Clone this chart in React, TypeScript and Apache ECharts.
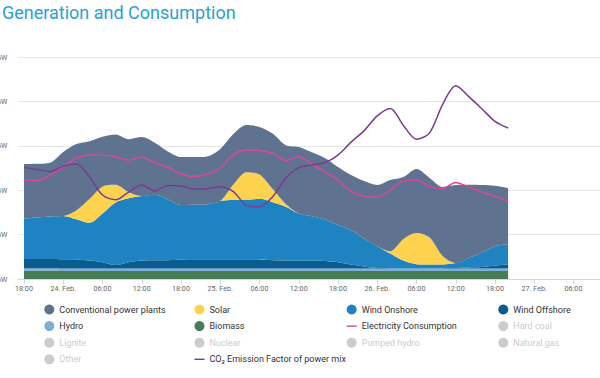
import React, { useEffect, useRef } from "react";
import * as echarts from "echarts";

// hours after 23 Feb 18:00 for every sample
const hoursFromStart = [
  0, 2, 4, 6, 8, 10, 12, 14, 16, 18, 20, 22, 24, 26, 28, 30, 32, 34, 36,
  38, 40, 42, 44, 46, 48, 50, 52, 54, 56, 58, 60, 62, 64, 66, 68, 70, 72, 74,
];

// GW
const biomass = [
  3.7, 3.7, 3.7, 3.6, 3.6, 3.6, 3.6, 3.6, 3.6, 3.6, 3.6, 3.6, 3.6, 3.6, 3.6, 3.6, 3.6, 3.6, 3.6,
  3.6, 3.6, 3.6, 3.6, 3.6, 3.6, 3.6, 3.6, 3.6, 3.6, 3.6, 3.6, 3.6, 3.6, 3.6, 3.6, 3.6, 3.6, 3.6,
];
const hydro = [
  1.1, 1.1, 1.1, 1.1, 1.1, 1.1, 1.1, 1.1, 1.1, 1.1, 1.1, 1.1, 1.1, 1.1, 1.1, 1.1, 1.1, 1.1, 1.1,
  1.1, 1.1, 1.1, 1.1, 1.1, 1.1, 1.1, 1.1, 1.1, 1.1, 1.1, 1.1, 1.1, 1.1, 1.1, 1.1, 1.1, 1.1, 1.1,
];
const windOffshore = [
  4.2, 4.2, 4.2, 4.2, 4.1, 3.6, 2.9, 1.6, 2.9, 3.6, 3.8, 3.8, 4.1, 4.2, 4.2, 4.2, 4.2, 4.2, 4.1,
  3.8, 3.6, 3.5, 3.5, 3.4, 2.9, 1.8, 0.9, 0.2, 0.15, 0.1, 0.1, 0.1, 0.15, 0.2, 0.5, 0.7, 1.4, 2.0,
];
const windOnshore = [
  18.2, 18.7, 19.2, 19.5, 18.1, 17.0, 21.9, 28.2, 28.8, 29.1, 29.4, 27.3, 24.5, 24.5, 24.8, 26.3, 26.7, 26.7, 27.3,
  26.1, 24.3, 21.3, 20.1, 18.7, 16.7, 15.5, 12.6, 9.9, 6.6, 3.5, 1.9, 1.7, 1.7, 2.3, 4.3, 6.5, 8.6, 8.9,
];
const solar = [
  0, 0, 0, 0, 4.0, 10.7, 12.1, 7.9, 2.7, 0, 0, 0, 0, 0, 0, 0, 6.9, 12.5, 11.0,
  6.0, 1.2, 0, 0, 0, 0, 0, 0, 0, 1.1, 9.7, 14.0, 12.2, 3.8, 0, 0, 0, 0, 0,
];
const conventional = [
  24.6, 24.2, 24.2, 28.8, 29.9, 26.1, 22.5, 22.7, 23.9, 26.6, 23.5, 21.6, 21.6, 21.5, 21.5, 23.4, 22.8, 21.3, 21.4,
  24.9, 26.5, 30.0, 28.8, 27.7, 26.1, 24.8, 25.9, 27.5, 32.0, 27.9, 28.8, 26.8, 31.1, 35.1, 32.9, 30.4, 27.3, 25.4,
];
const consumption = [
  44.6, 44.3, 46.8, 50.5, 54.5, 55.9, 55.8, 55.1, 53.6, 55.0, 52.3, 50.2, 47.3, 46.2, 47.2, 50.0, 55.9, 58.1, 57.9,
  56.6, 53.3, 55.1, 51.8, 48.2, 44.6, 39.6, 37.2, 36.9, 40.1, 44.1, 44.6, 41.7, 40.8, 43.5, 41.4, 39.2, 37.2, 35.0,
];
// g/kWh
const co2Factor = [
  301, 296, 290, 305, 311, 276, 227, 214, 235, 254, 238, 253, 252, 243, 244, 249, 236, 199, 195,
  222, 272, 301, 308, 315, 335, 370, 401, 441, 461, 415, 378, 395, 472, 522, 493, 460, 426, 408,
];

const xTickHours = [0, 6, 12, 18, 24, 30, 36, 42, 48, 54, 60, 66, 72, 78, 84];
const xTickLabels = [
  "18:00", "24. Feb.", "06:00", "12:00", "18:00", "25. Feb.", "06:00", "12:00",
  "18:00", "26. Feb.", "06:00", "12:00", "18:00", "27. Feb.", "06:00",
];
const yTicks = [0, 20, 40, 60, 80, 100];

const inactiveNames = ["Hard coal", "Lignite", "Nuclear", "Pumped hydro", "Natural gas", "Other"];
const CO2_NAME = "CO\u2082 Emission Factor of power mix";

const legendColumns = [
  ["Conventional power plants", "Hydro", "Lignite", "Other"],
  ["Solar", "Biomass", "Nuclear", CO2_NAME],
  ["Wind Onshore", "Electricity Consumption", "Pumped hydro"],
  ["Wind Offshore", "Hard coal", "Natural gas"],
];
const legendLefts = [44.3, 194.5, 346.7, 498.3];
const lineNames = ["Electricity Consumption", CO2_NAME];
const LINE_ICON = "path://M0,0 L0,0 M0,4.3 L10,4.3 L10,5.7 L0,5.7 Z M10,10 L10,10";

const FONT = "Roboto, 'Open Sans', sans-serif";

export default function App() {
  const ref = useRef<HTMLDivElement>(null);

  useEffect(() => {
    document.body.style.margin = "0";
    if (!ref.current) return;
    const chart = echarts.init(ref.current, undefined, { renderer: "svg" });

    // value first so that stacking happens on the y dimension
    const pts = (arr: number[]) => arr.map((v, i) => [v, hoursFromStart[i]]);
    const enc = { x: 1, y: 0 };

    const area = (name: string, data: number[], color: string) => ({
      name,
      type: "line",
      stack: "gen",
      data: pts(data),
      encode: enc,
      symbol: "none",
      smooth: 0.3,
      color,
      lineStyle: { width: 0 },
      areaStyle: { color, opacity: 1 },
      emphasis: { disabled: true },
      z: 2,
    });

    const selected: Record<string, boolean> = {};
    inactiveNames.forEach((n) => (selected[n] = false));

    const legends = legendColumns.map((names, ci) => ({
      orient: "vertical",
      left: legendLefts[ci],
      top: 304.5,
      padding: 0,
      itemWidth: 10,
      itemHeight: 10,
      itemGap: 6.6,
      inactiveColor: "#cccccc",
      selected,
      textStyle: { fontSize: 9, color: "#333333", fontFamily: FONT, lineHeight: 10 },
      data: names.map((n) =>
        lineNames.includes(n) ? { name: n, icon: LINE_ICON } : { name: n, icon: "circle" }
      ),
    }));

    const option: any = {
      animation: false,
      title: {
        text: "Generation and Consumption",
        left: 2,
        top: 3,
        padding: 0,
        textStyle: { fontSize: 18, fontWeight: "normal", color: "#2a9fd6", fontFamily: FONT },
      },
      legend: legends,
      grid: {
        left: 18,
        right: 0,
        top: 57,
        bottom: 99,
        containLabel: false,
        outerBoundsMode: "none",
      },
      xAxis: {
        type: "value",
        min: -0.917,
        max: 88.05,
        axisLine: { show: true, lineStyle: { color: "#ccd6eb", width: 1 } },
        axisTick: { show: true, length: 5, lineStyle: { color: "#ccd6eb" }, customValues: xTickHours },
        axisLabel: {
          customValues: xTickHours,
          color: "#666666",
          fontSize: 7.2,
          fontFamily: FONT,
          margin: 6,
          hideOverlap: false,
          formatter: (v: number) => {
            const idx = xTickHours.indexOf(Math.round(v));
            return idx >= 0 ? xTickLabels[idx] : "";
          },
        },
        splitLine: { show: false },
      },
      yAxis: [
        {
          type: "value",
          min: yTicks[0],
          max: yTicks[yTicks.length - 1],
          interval: 20,
          axisLine: { show: false },
          axisTick: { show: false },
          axisLabel: {
            formatter: "{value} GW",
            color: "#666666",
            fontSize: 7.2,
            fontFamily: FONT,
            margin: 10.5,
          },
          splitLine: { lineStyle: { color: "#e6e6e6", width: 1 } },
        },
        { type: "value", min: 0, max: 600, show: false, splitLine: { show: false } },
      ],
      series: [
        area("Biomass", biomass, "#477c54"),
        area("Hydro", hydro, "#7bafd6"),
        area("Wind Offshore", windOffshore, "#0a5b8f"),
        area("Wind Onshore", windOnshore, "#1f82c1"),
        area("Solar", solar, "#fdd24f"),
        area("Conventional power plants", conventional, "#5f7391"),
        {
          name: "Electricity Consumption",
          type: "line",
          data: pts(consumption),
          encode: enc,
          symbol: "none",
          smooth: 0.3,
          color: "#d9489b",
          lineStyle: { width: 1.5, color: "#d9489b" },
          z: 5,
        },
        {
          name: CO2_NAME,
          type: "line",
          yAxisIndex: 1,
          data: pts(co2Factor),
          encode: enc,
          symbol: "none",
          smooth: 0.3,
          color: "#7a3b8e",
          lineStyle: { width: 1.5, color: "#7a3b8e" },
          z: 6,
        },
        ...inactiveNames.map((n) => ({ name: n, type: "line", data: [], symbol: "none", color: "#999999" })),
      ],
    };

    chart.setOption(option);
    return () => chart.dispose();
  }, []);

  return (
    <div
      ref={ref}
      style={{ width: 600, height: 378, position: "absolute", left: 0, top: 0 }}
    />
  );
}
